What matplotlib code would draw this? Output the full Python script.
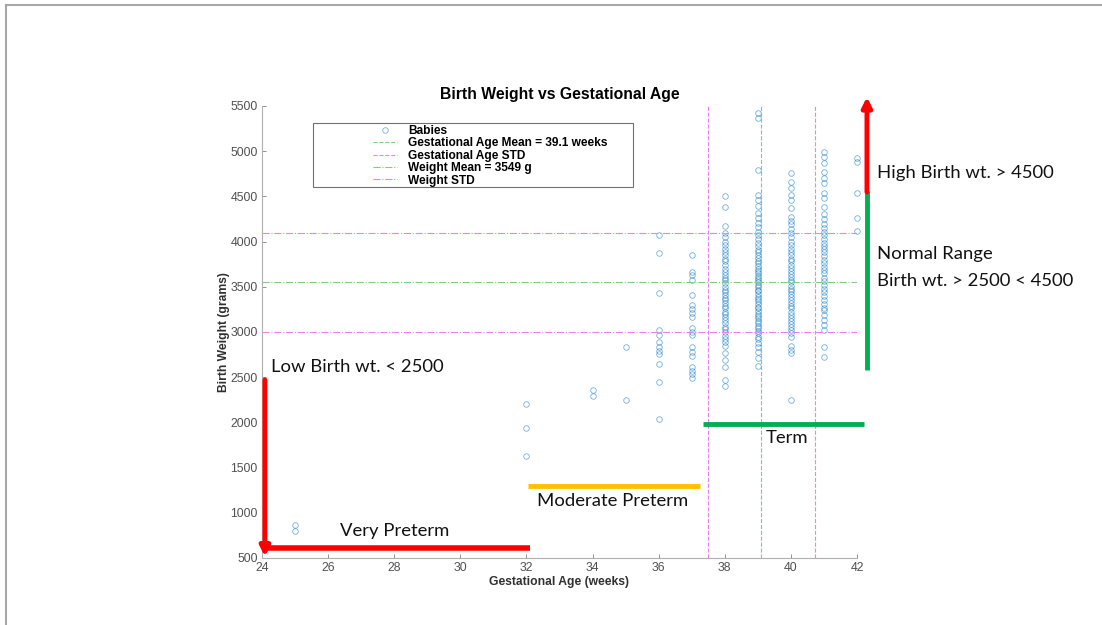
import matplotlib
matplotlib.use('Agg')
import numpy as np
import matplotlib.pyplot as plt
from matplotlib.lines import Line2D
from matplotlib.patches import Rectangle

# birth weight (g), grouped by gestational week
weeks = [25, 32, 34, 35, 36, 37, 38, 39, 40, 41, 42]
w25 = [800, 870]
w32 = [1630, 1940, 2200]
w34 = [2290, 2360]
w35 = [2250, 2830]
w36 = [2040, 2450, 2650, 2760, 2790, 2830, 2890, 2970, 3020, 3430, 3870, 4070]
w37 = [2490, 2530, 2570, 2610, 2740, 2780, 2830, 2970, 3000, 3040, 3170, 3210,
       3250, 3300, 3410, 3580, 3630, 3660, 3850]
w38 = [2400, 2470, 2610, 2690, 2770, 2850, 2890, 2920, 2960, 3000, 3030, 3060,
       3100, 3130, 3170, 3200, 3220, 3260, 3290, 3320, 3350, 3380, 3410, 3440,
       3470, 3500, 3540, 3570, 3600, 3630, 3660, 3700, 3740, 3780, 3810, 3850,
       3880, 3920, 3960, 4000, 4050, 4100, 4170, 4380, 4500]
w39 = [2620, 2710, 2780, 2830, 2880, 2920, 2950, 2990, 3010, 3040, 3070, 3100,
       3120, 3150, 3180, 3200, 3230, 3260, 3280, 3310, 3340, 3360, 3390, 3420,
       3450, 3470, 3500, 3520, 3550, 3570, 3600, 3620, 3650, 3680, 3700, 3730,
       3760, 3790, 3820, 3850, 3880, 3910, 3950, 3990, 4030, 4070, 4110, 4160,
       4210, 4260, 4320, 4390, 4460, 4510, 4790, 5370, 5420]
w40 = [2250, 2770, 2800, 2850, 2940, 2990, 3020, 3060, 3090, 3120, 3160, 3190,
       3220, 3260, 3290, 3320, 3350, 3390, 3420, 3450, 3480, 3510, 3550, 3580,
       3610, 3640, 3680, 3710, 3740, 3780, 3810, 3850, 3880, 3920, 3960, 4000,
       4050, 4090, 4140, 4190, 4230, 4270, 4370, 4460, 4520, 4590, 4660, 4760]
w41 = [2720, 2830, 3020, 3080, 3130, 3190, 3240, 3270, 3310, 3350, 3400, 3440,
       3480, 3520, 3560, 3600, 3650, 3690, 3720, 3760, 3800, 3840, 3880, 3920,
       3950, 3990, 4030, 4070, 4110, 4150, 4200, 4250, 4300, 4380, 4480, 4540,
       4650, 4700, 4770, 4870, 4940, 4990]
w42 = [4120, 4260, 4540, 4880, 4930]
weights = [w25, w32, w34, w35, w36, w37, w38, w39, w40, w41, w42]

ga_mean = 39.1
ga_std = 1.62
wt_mean = 3549
wt_std = 550

x = np.concatenate([np.full(len(w), wk) for wk, w in zip(weeks, weights)])
y = np.concatenate(weights)

plt.rcParams['font.family'] = ['Liberation Sans', 'DejaVu Sans']

fig = plt.figure(figsize=(11.02, 6.25), dpi=100, facecolor='white')
ax = fig.add_axes([0.2377, 0.1072, 0.54, 0.7232])

matlab_blue = (0.0, 0.447, 0.741)
pale_green = '#80cc80'
pale_mag = '#ee80ee'

ax.plot(x, y, 'o', mfc='none', mec=matlab_blue, ms=4, mew=0.6, alpha=0.55,
        label='Babies', clip_on=False)
ax.axvline(ga_mean, color=pale_green, ls='--', lw=0.8,
           label=f'Gestational Age Mean = {ga_mean} weeks')
ax.axvline(ga_mean - ga_std, color=pale_mag, ls='--', lw=0.8,
           label='Gestational Age STD')
ax.axvline(ga_mean + ga_std, color=pale_mag, ls='--', lw=0.8)
ax.axhline(wt_mean, color=pale_green, ls='-.', lw=0.8,
           label=f'Weight Mean = {wt_mean} g')
ax.axhline(wt_mean - wt_std, color=pale_mag, ls='-.', lw=0.8, label='Weight STD')
ax.axhline(wt_mean + wt_std, color=pale_mag, ls='-.', lw=0.8)

ax.set_xlim(24, 42)
ax.set_ylim(500, 5500)
ax.set_xticks(np.arange(24, 43, 2))
ax.set_yticks(np.arange(500, 5501, 500))
for s in ['top', 'right']:
    ax.spines[s].set_visible(False)
for s in ['left', 'bottom']:
    ax.spines[s].set_color('#b0b0b0')
    ax.spines[s].set_linewidth(0.8)
ax.tick_params(direction='in', length=3, width=0.6, color='#808080',
               labelsize=8.8, labelcolor='#505050', pad=3)

ax.set_title('Birth Weight vs Gestational Age', fontsize=11.3, fontweight='bold', pad=5)
ax.set_xlabel('Gestational Age (weeks)', fontsize=8.7, fontweight='bold',
              color='#303030', labelpad=1)
ax.set_ylabel('Birth Weight (grams)', fontsize=8.7, fontweight='bold',
              color='#303030')
ax.yaxis.set_label_coords(-0.054, 0.5)

# legend box drawn separately so the entries sit in the middle like MATLAB
ax.add_patch(Rectangle((0.0857, 0.82), 0.538, 0.142, transform=ax.transAxes,
                       fill=False, ec='#707070', lw=0.8))
ax.legend(loc='upper left', bbox_to_anchor=(0.172, 0.977), frameon=False,
          prop={'weight': 'bold', 'size': 8.6}, handlelength=2.05,
          handletextpad=0.95, labelspacing=0.04, borderpad=0.2)

# hand-drawn annotations
red = '#ff0000'
green = '#00b050'
orange = '#ffc000'
ax.annotate('', xy=(24.09, 515), xytext=(24.09, 2470), annotation_clip=False,
            arrowprops=dict(arrowstyle='-|>', color=red, lw=3.5, mutation_scale=14,
                            shrinkA=0, shrinkB=0))
ax.plot([24.0, 32.1], [610, 610], color=red, lw=4, solid_capstyle='butt', clip_on=False)
ax.plot([32.05, 37.25], [1296, 1296], color=orange, lw=3.5, solid_capstyle='butt', clip_on=False)
ax.plot([37.34, 42.2], [1982, 1982], color=green, lw=3.5, solid_capstyle='butt', clip_on=False)
ax.plot([42.3, 42.3], [2580, 4560], color=green, lw=3.5, solid_capstyle='butt', clip_on=False)
ax.annotate('', xy=(42.3, 5600), xytext=(42.3, 4549), annotation_clip=False,
            arrowprops=dict(arrowstyle='-|>', color=red, lw=3.5, mutation_scale=14,
                            shrinkA=0, shrinkB=0))

tkw = dict(fontsize=13.3, family=['Lato', 'DejaVu Sans'], color='#111111',
           va='center', clip_on=False)
ax.text(42.6, 4759, 'High Birth wt. > 4500', ha='left', **tkw)
ax.text(42.6, 3863, 'Normal Range', ha='left', **tkw)
ax.text(42.6, 3564, 'Birth wt. > 2500 < 4500', ha='left', **tkw)
ax.text(24.27, 2613, 'Low Birth wt. < 2500', ha='left', **tkw)
ax.text(39.88, 1827, 'Term', ha='center', **tkw)
ax.text(32.32, 1130, 'Moderate Preterm', ha='left', **tkw)
ax.text(26.36, 799, 'Very Preterm', ha='left', **tkw)

# slide frame (top and left edges only)
fig.add_artist(Line2D([6 / 1102, 1], [1 - 5 / 625, 1 - 5 / 625], color='#a8a8a8', lw=1.5))
fig.add_artist(Line2D([6 / 1102, 6 / 1102], [0, 1 - 5 / 625], color='#a8a8a8', lw=1.5))

fig.savefig('out.png', dpi=100)
